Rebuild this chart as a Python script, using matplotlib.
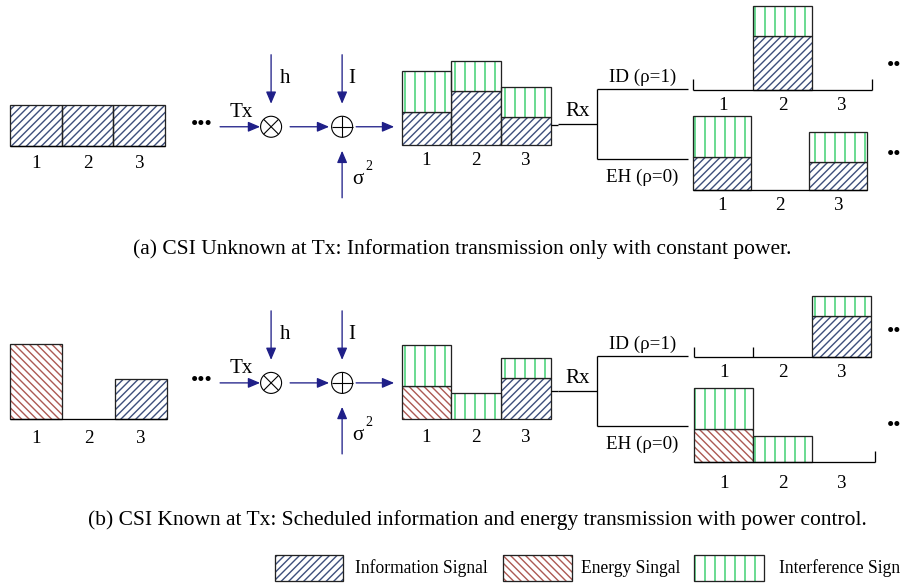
import matplotlib
matplotlib.use('Agg')
import matplotlib.pyplot as plt
from matplotlib.patches import Circle, Rectangle

plt.rcParams['font.family'] = ['Liberation Serif', 'DejaVu Serif']
DPI = 180
PT = 72.0 / DPI          # points per pixel
plt.rcParams['hatch.linewidth'] = 1.4 * PT
W, H = 902, 583

# ---------------- data ----------------
slots = ['1', '2', '3']
# (a) CSI unknown
a_tx_info = [41, 41, 41]
a_rx_info = [33, 54, 28]
a_rx_intf = [41, 30, 30]
a_id_mask = [0, 1, 0]
a_eh_mask = [1, 0, 1]
# (b) CSI known
b_tx_energy = [75, 0, 0]
b_tx_info = [0, 0, 40]
b_rx_energy = [33, 0, 0]
b_rx_info = [0, 0, 41]
b_rx_intf = [41, 26, 20]
b_id_mask = [0, 0, 1]
b_eh_mask = [1, 1, 0]

captions = ['(a) CSI Unknown at Tx: Information transmission only with constant power.',
            '(b) CSI Known at Tx: Scheduled information and energy transmission with power control.']
legend_labels = ['Information Signal', 'Energy Singal', 'Interference Sign']

# ---------------- styles ----------------
NAVY = '#1f1f88'
INFO = dict(ec='#3e4f7c', hatch='////////')
ENER = dict(ec='#ad5a54', hatch='\\\\\\\\\\\\\\\\')
INTF = dict(ec='#2fcc66', hatch='|||')
EDGE_LW = 1.3 * PT

fig = plt.figure(figsize=((W + 0.3) / DPI, (H + 0.3) / DPI), dpi=DPI)
ax = fig.add_axes([0, 0, 1, 1])
ax.set_xlim(0, W)
ax.set_ylim(0, H)
ax.axis('off')


def Y(py):
    return H - py


def fs(px):
    return px * PT


def txt(x, py, s, size=17, ha='center', **kw):
    ax.text(x, Y(py), s, fontsize=fs(size), ha=ha, va='center', color='black', **kw)


def line(x0, y0, x1, y1, color='black', lw=1.3):
    ax.plot([x0, x1], [Y(y0), Y(y1)], color=color, lw=lw * PT, solid_capstyle='butt')


def arrow(x0, y0, x1, y1):
    ax.annotate('', xy=(x1, Y(y1)), xytext=(x0, Y(y0)),
                arrowprops=dict(arrowstyle='-|>,head_length=0.4,head_width=0.17', color=NAVY,
                                lw=1.3 * PT, mutation_scale=25 * PT, shrinkA=0, shrinkB=0))


def bars(x0, width, base_py, layers, mask=None, labels_py=None):
    n = len(layers[0][0])
    xs = [x0 + width * (i + 0.5) for i in range(n)]
    bottom = [0.0] * n
    for vals, st in layers:
        v = [vals[i] * (mask[i] if mask is not None else 1) for i in range(n)]
        bt = [Y(base_py) + b for b in bottom]
        ax.bar(xs, v, width, bottom=bt, color='white', edgecolor=st['ec'],
               hatch=st['hatch'], linewidth=0)
        for i in range(n):
            if v[i] > 0:
                ax.bar(xs[i], v[i], width, bottom=bt[i], fill=False,
                       edgecolor='#222222', linewidth=EDGE_LW)
        bottom = [bottom[i] + v[i] for i in range(n)]
    if labels_py is not None:
        for i, s in enumerate(slots):
            txt(xs[i], labels_py, s, size=19)
    return xs


def chain(cy):
    txt(202, cy - 2, '•••', size=21)
    arrow(220, cy, 260, cy)
    txt(241, cy - 15, 'Tx', size=21)
    # multiplier
    cx = 271
    ax.add_patch(Circle((cx, Y(cy)), 10.5, fill=False, ec='black', lw=1.1 * PT))
    d = 7.4
    line(cx - d, cy - d, cx + d, cy + d, lw=1.1)
    line(cx - d, cy + d, cx + d, cy - d, lw=1.1)
    arrow(cx, cy - 72, cx, cy - 23)
    txt(285, cy - 49, 'h', size=21)
    arrow(290, cy, 329, cy)
    # adder
    ax.add_patch(Circle((342, Y(cy)), 10.5, fill=False, ec='black', lw=1.1 * PT))
    line(342 - 10.5, cy, 342 + 10.5, cy, lw=1.1)
    line(342, cy - 10.5, 342, cy + 10.5, lw=1.1)
    arrow(342, cy - 72, 342, cy - 23)
    txt(352, cy - 49, 'I', size=21)
    arrow(342, cy + 71, 342, cy + 24)
    txt(358, cy + 52, 'σ', size=21)
    txt(369, cy + 39, '2', size=14)
    arrow(356, cy, 394, cy)


def receiver(ry, id_y, eh_y):
    line(558, ry, 597, ry)
    txt(577, ry - 13, 'Rx', size=21)
    line(597, id_y, 597, eh_y)
    line(597, id_y, 688, id_y)
    line(597, eh_y, 688, eh_y)
    txt(642, id_y - 12, 'ID (ρ=1)', size=19)
    txt(642, eh_y + 18, 'EH (ρ=0)', size=19)


RX0, RXW = 693, 59.5

# ================= panel (a) =================
chain(127)
bars(10, 51.7, 146, [(a_tx_info, INFO)], labels_py=163)
line(10, 146, 165, 146)
bars(401.5, 49.7, 145, [(a_rx_info, INFO), (a_rx_intf, INTF)], labels_py=160)
line(551, 125, 558, 125)
receiver(124, 89, 159)
bars(RX0, RXW, 90, [(a_rx_info, INFO), (a_rx_intf, INTF)], mask=a_id_mask, labels_py=105)
line(RX0, 90, RX0 + 3 * RXW, 90)
line(RX0, 90, RX0, 79)
line(RX0 + 3 * RXW, 90, RX0 + 3 * RXW, 79)
bars(RX0, RXW - 1.5, 190, [(a_rx_info, INFO), (a_rx_intf, INTF)], mask=a_eh_mask, labels_py=205)
line(RX0, 190, RX0 + 3 * (RXW - 1.5), 190)
txt(901, 66, '••', size=21, ha='right')
txt(901, 155, '••', size=21, ha='right')
txt(133, 249, captions[0], size=21.5, ha='left')

# ================= panel (b) =================
chain(383)
bars(10, 52.3, 419, [(b_tx_energy, ENER), (b_tx_info, INFO)], labels_py=438)
line(10, 419, 167, 419)
bars(401.5, 49.8, 419, [(b_rx_energy, ENER), (b_rx_info, INFO), (b_rx_intf, INTF)], labels_py=437)
line(551, 391, 558, 391)
receiver(391, 356, 426)
bars(RX0 + 1, RXW - 0.5, 357, [(b_rx_energy, ENER), (b_rx_info, INFO), (b_rx_intf, INTF)],
     mask=b_id_mask, labels_py=372)
line(RX0 + 1, 357, RX0 + 1 + 3 * (RXW - 0.5), 357)
line(RX0 + 1, 357, RX0 + 1, 347)
line(RX0 + 1 + (RXW - 0.5), 357, RX0 + 1 + (RXW - 0.5), 347)
bars(RX0 + 1, RXW - 0.5, 462, [(b_rx_energy, ENER), (b_rx_info, INFO), (b_rx_intf, INTF)],
     mask=b_eh_mask, labels_py=483)
line(RX0 + 1, 462, 875, 462)
line(875, 462, 875, 451)
txt(901, 332, '••', size=21, ha='right')
txt(901, 426, '••', size=21, ha='right')
txt(88, 520, captions[1], size=21.5, ha='left')

# ================= legend =================
for (x0, x1, st), lab, tx in zip([(275, 343, INFO), (503, 572, ENER), (694, 764, INTF)],
                                 legend_labels, [355, 581, 779]):
    ax.add_patch(Rectangle((x0, Y(581)), x1 - x0, 26, facecolor='white', edgecolor=st['ec'],
                           hatch=st['hatch'], linewidth=0))
    ax.add_patch(Rectangle((x0, Y(581)), x1 - x0, 26, fill=False, edgecolor='#222222',
                           linewidth=EDGE_LW))
    txt(tx, 568, lab, size=17.5, ha='left')

fig.savefig('out.png', dpi=DPI, facecolor='white')
